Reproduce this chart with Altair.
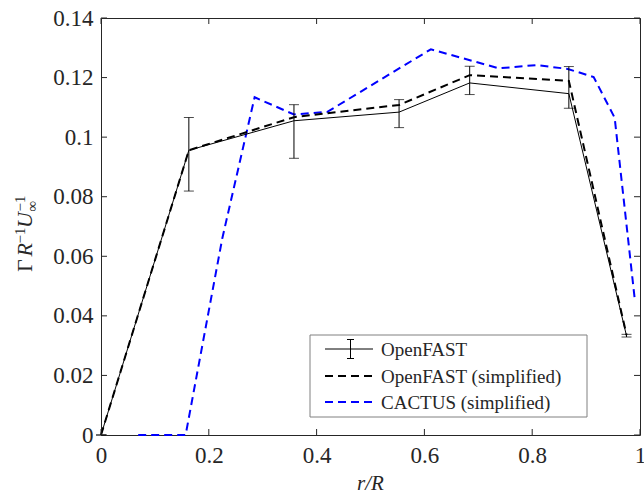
import altair as alt
import pandas as pd

# Full OpenFAST run: radial stations, circulation and its min/max band
r_openfast = [0.0, 0.163, 0.358, 0.553, 0.684, 0.868, 0.975]
gamma_openfast = [0.0, 0.0956, 0.1055, 0.1084, 0.1182, 0.1146, 0.0333]
gamma_openfast_hi = [0.0, 0.1066, 0.1109, 0.1126, 0.1238, 0.1237, 0.0338]
gamma_openfast_lo = [0.0, 0.0819, 0.0929, 0.1032, 0.1143, 0.1097, 0.0329]

# Simplified OpenFAST model, same stations
gamma_openfast_simpl = [0.0, 0.0956, 0.1067, 0.1108, 0.1208, 0.1189, 0.0336]

# Simplified CACTUS model
r_cactus = [0.069, 0.157, 0.225, 0.285, 0.358, 0.42, 0.612, 0.738, 0.808,
            0.866, 0.914, 0.953, 0.99]
gamma_cactus = [0.0, 0.0, 0.066, 0.1134, 0.1076, 0.1085, 0.1295, 0.1231,
                0.1242, 0.1229, 0.1202, 0.1065, 0.046]

x_ticks = [0.0, 0.2, 0.4, 0.6, 0.8, 1.0]
y_ticks = [0.0, 0.02, 0.04, 0.06, 0.08, 0.10, 0.12, 0.14]

legend_labels = ["OpenFAST", "OpenFAST (simplified)", "CACTUS (simplified)"]

W, H = 539, 417
FONT = "Liberation Serif"
INK = "#262626"

openfast = pd.DataFrame({"r": r_openfast, "g": gamma_openfast,
                         "lo": gamma_openfast_lo, "hi": gamma_openfast_hi})
simplified = pd.DataFrame({"r": r_openfast, "g": gamma_openfast_simpl})
cactus = pd.DataFrame({"r": r_cactus, "g": gamma_cactus})

xs = alt.Scale(domain=[0, 1], nice=False, zero=False)
ys = alt.Scale(domain=[0, 0.14], nice=False, zero=False)
fmt = "format(datum.value, '~g')"
x_axis = alt.Axis(values=x_ticks, labelExpr=fmt, title=None, grid=False,
                  ticks=False, domain=False, labelFlush=False, labelPadding=9,
                  labelFont=FONT, labelFontSize=23, labelColor=INK)
y_axis = alt.Axis(values=y_ticks, labelExpr=fmt, title=None, grid=False,
                  ticks=False, domain=False, labelFlush=False, labelPadding=8,
                  labelFont=FONT, labelFontSize=23, labelColor=INK)


def X(field):
    return alt.X(f"{field}:Q", scale=xs, axis=x_axis)


def Y(field):
    return alt.Y(f"{field}:Q", scale=ys, axis=y_axis)


one = pd.DataFrame({"k": [0]})

line_of = alt.Chart(openfast).mark_line(color="black", strokeWidth=1).encode(
    x=X("r"), y=Y("g"))
err = alt.Chart(openfast).mark_rule(color="black", strokeWidth=1).encode(
    x=X("r"), y=Y("lo"), y2="hi")
cap_hi = alt.Chart(openfast).mark_tick(
    orient="horizontal", size=10, thickness=1, color="black").encode(
    x=X("r"), y=Y("hi"))
cap_lo = alt.Chart(openfast).mark_tick(
    orient="horizontal", size=10, thickness=1, color="black").encode(
    x=X("r"), y=Y("lo"))
line_simpl = alt.Chart(simplified).mark_line(
    color="black", strokeWidth=2, strokeDash=[8, 5]).encode(x=X("r"), y=Y("g"))
line_cactus = alt.Chart(cactus).mark_line(
    color="#0000ff", strokeWidth=2, strokeDash=[8, 5]).encode(x=X("r"), y=Y("g"))

# Inward-pointing ticks on all four sides of the box
xt = pd.DataFrame({"t": x_ticks})
yt = pd.DataFrame({"t": y_ticks})
TL = 6
ticks = [
    alt.Chart(xt).mark_rule(color=INK, strokeWidth=1).encode(
        x=X("t"), y=alt.value(H), y2=alt.value(H - TL)),
    alt.Chart(xt).mark_rule(color=INK, strokeWidth=1).encode(
        x=X("t"), y=alt.value(0), y2=alt.value(TL)),
    alt.Chart(yt).mark_rule(color=INK, strokeWidth=1).encode(
        y=Y("t"), x=alt.value(0), x2=alt.value(TL)),
    alt.Chart(yt).mark_rule(color=INK, strokeWidth=1).encode(
        y=Y("t"), x=alt.value(W), x2=alt.value(W - TL)),
]

# Legend box
LX0, LX1, LY0, LY1 = 209, 486, 317, 399
rows_y = [331, 358, 384]
sx0, sx1, tx = 224, 272, 280
legend = [
    alt.Chart(one).mark_rect(fill="white", stroke="#808080", strokeWidth=1).encode(
        x=alt.value(LX0), x2=alt.value(LX1), y=alt.value(LY0), y2=alt.value(LY1)),
    alt.Chart(one).mark_rule(color="black", strokeWidth=1).encode(
        x=alt.value(sx0), x2=alt.value(sx1), y=alt.value(rows_y[0])),
    alt.Chart(one).mark_rule(color="black", strokeWidth=1).encode(
        x=alt.value(249.5), y=alt.value(rows_y[0] - 9.5), y2=alt.value(rows_y[0] + 9.5)),
    alt.Chart(one).mark_rule(color="black", strokeWidth=1).encode(
        x=alt.value(246), x2=alt.value(253), y=alt.value(rows_y[0] - 9.5)),
    alt.Chart(one).mark_rule(color="black", strokeWidth=1).encode(
        x=alt.value(246), x2=alt.value(253), y=alt.value(rows_y[0] + 9.5)),
    alt.Chart(one).mark_rule(color="black", strokeWidth=2, strokeDash=[8, 5]).encode(
        x=alt.value(sx0), x2=alt.value(sx1), y=alt.value(rows_y[1])),
    alt.Chart(one).mark_rule(color="#0000ff", strokeWidth=2, strokeDash=[8, 5]).encode(
        x=alt.value(sx0), x2=alt.value(sx1), y=alt.value(rows_y[2])),
]
for label, ry in zip(legend_labels, rows_y):
    legend.append(
        alt.Chart(one).mark_text(
            text=label, font=FONT, fontSize=19, color=INK, align="left",
            baseline="middle").encode(x=alt.value(tx), y=alt.value(ry + 1)))


# Axis titles drawn as text: r/R below, Gamma R^-1 U_inf^-1 rotated at left
def piece(txt, x, y, size, style="normal", angle=270, align="left"):
    return alt.Chart(one).mark_text(
        text=txt, font=FONT, fontSize=size, fontStyle=style, color=INK,
        angle=angle, align=align, baseline="alphabetic").encode(
        x=alt.value(x), y=alt.value(y))


titles = [
    piece("r/R", W / 2, H + 55, 21, "italic", angle=0, align="center"),
    piece("Γ", -69, 254, 22),
    piece("R", -69, 238.5, 22, "italic"),
    piece("−1", -76, 225.5, 15),
    piece("U", -69, 210, 22, "italic"),
    piece("∞", -64, 193.5, 15),
    piece("−1", -76, 193.5, 15),
]

chart = alt.layer(
    line_cactus, line_simpl, line_of, err, cap_hi, cap_lo, *ticks, *legend, *titles
).properties(
    width=W, height=H,
    autosize=alt.AutoSizeParams(type="none"),
    padding={"left": 101, "top": 18, "right": 4, "bottom": 59},
    background="white",
).configure_view(
    stroke=INK, strokeWidth=1
)

chart.save("out.html", embed_options={"renderer": "svg", "actions": False})
